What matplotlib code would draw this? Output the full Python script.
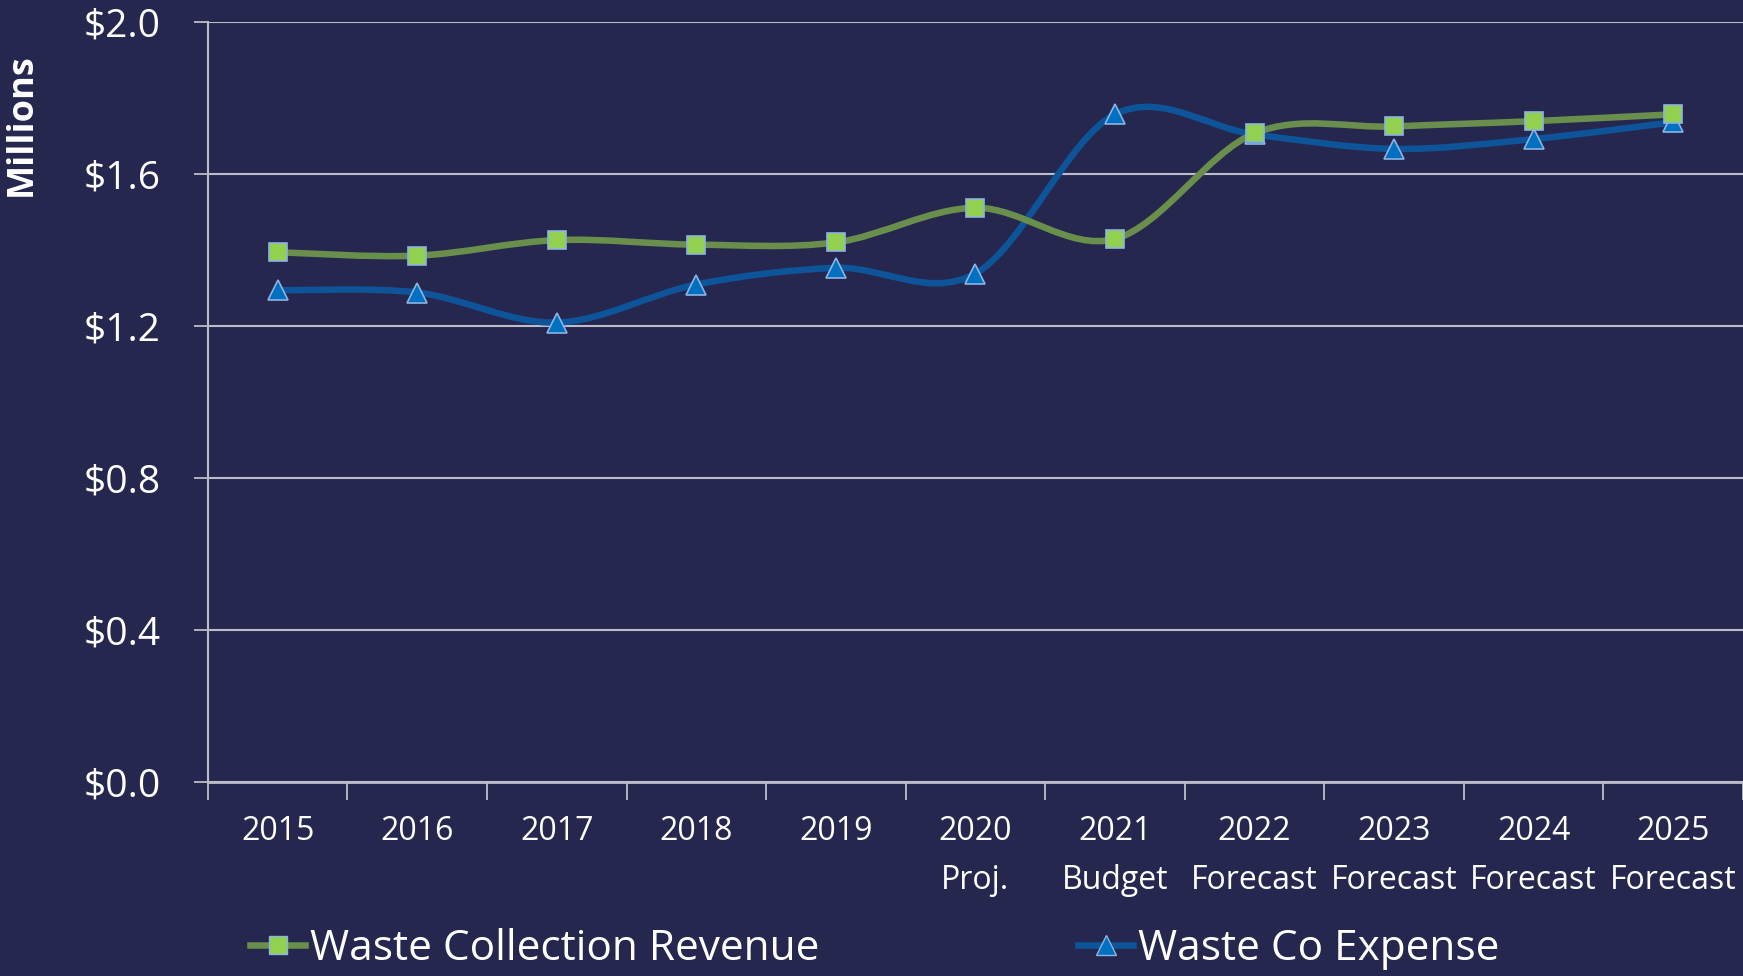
import matplotlib.pyplot as plt
from matplotlib.path import Path
from matplotlib.patches import PathPatch
from matplotlib.lines import Line2D
from matplotlib.ticker import FuncFormatter

plt.rcParams['font.family'] = ['Open Sans', 'DejaVu Sans']

# data (millions of dollars)
categories = ["2015", "2016", "2017", "2018", "2019", "2020\nProj.", "2021\nBudget",
              "2022\nForecast", "2023\nForecast", "2024\nForecast", "2025\nForecast"]
revenue = [1.394, 1.385, 1.426, 1.414, 1.420, 1.511, 1.429, 1.707, 1.725, 1.739, 1.757]
expense = [1.294, 1.288, 1.209, 1.309, 1.353, 1.338, 1.757, 1.704, 1.666, 1.692, 1.736]

BG = '#25274F'
GRID = '#BDBDC8'
GREEN_LINE = '#6A8E4C'
GREEN_FILL = '#92D050'
BLUE_LINE = '#0D5499'
BLUE_FILL = '#0070C0'
MARK_EDGE = '#8DB3E2'


def smooth_path(xs, ys):
    # Excel-style smoothed line: cubic bezier segments through every point
    pts = list(zip(xs, ys))
    verts = [pts[0]]
    codes = [Path.MOVETO]
    n = len(pts)
    for i in range(n - 1):
        p0 = pts[i - 1] if i > 0 else pts[i]
        p1 = pts[i]
        p2 = pts[i + 1]
        p3 = pts[i + 2] if i + 2 < n else pts[i + 1]
        c1 = (p1[0] + (p2[0] - p0[0]) / 6, p1[1] + (p2[1] - p0[1]) / 6)
        c2 = (p2[0] - (p3[0] - p1[0]) / 6, p2[1] - (p3[1] - p1[1]) / 6)
        verts += [c1, c2, p2]
        codes += [Path.CURVE4] * 3
    return Path(verts, codes)


def main():
    fig = plt.figure(figsize=(17.43, 9.76), dpi=100, facecolor=BG)
    ax = fig.add_axes([0.1193, 0.1988, 0.8807, 0.7787])
    ax.set_facecolor(BG)

    x = list(range(len(categories)))

    for vals, lc, fc, mk, ms in [(expense, BLUE_LINE, BLUE_FILL, '^', 15),
                                 (revenue, GREEN_LINE, GREEN_FILL, 's', 13)]:
        ax.add_patch(PathPatch(smooth_path(x, vals), fill=False, edgecolor=lc,
                               linewidth=4.7, capstyle='round', joinstyle='round', zorder=3))
        ax.plot(x, vals, linestyle='none', marker=mk, markersize=ms, markerfacecolor=fc,
                markeredgecolor=MARK_EDGE, markeredgewidth=1.2, zorder=4)

    ax.set_xlim(-0.5, len(categories) - 0.5)
    ax.set_ylim(0, 2.0)
    ax.set_yticks([0, 0.4, 0.8, 1.2, 1.6, 2.0])
    ax.yaxis.set_major_formatter(FuncFormatter(lambda v, p: f"${v:.1f}"))
    ax.grid(axis='y', color=GRID, linewidth=1.5)
    ax.set_axisbelow(True)

    ax.set_xticks([i - 0.5 for i in range(len(categories) + 1)])
    ax.set_xticklabels([])
    ax.set_xticks(x, minor=True)
    ax.set_xticklabels(categories, minor=True, fontsize=23, color='white', linespacing=1.62)
    ax.tick_params(axis='x', which='minor', length=0, pad=24)
    ax.tick_params(axis='x', which='major', length=13, width=1.3, color=GRID)
    ax.tick_params(axis='y', length=10, width=1.3, color=GRID, labelsize=28,
                   labelcolor='white', pad=24)

    for side in ['top', 'right']:
        ax.spines[side].set_visible(False)
    ax.spines['left'].set_color(GRID)
    ax.spines['left'].set_linewidth(1.5)
    ax.spines['bottom'].set_color(GRID)
    ax.spines['bottom'].set_linewidth(2.0)

    fig.text(0.0126, 0.872, 'Millions', rotation=90, fontsize=26, fontweight='bold',
             color='white', ha='center', va='center')

    handles = [
        Line2D([], [], color=GREEN_LINE, linewidth=4.7, marker='s', markersize=13,
               markerfacecolor=GREEN_FILL, markeredgecolor=MARK_EDGE),
        Line2D([], [], color=BLUE_LINE, linewidth=4.7, marker='^', markersize=15,
               markerfacecolor=BLUE_FILL, markeredgecolor=MARK_EDGE),
    ]
    fig.legend(handles, ['Waste Collection Revenue', 'Waste Co Expense'], loc='center left',
               bbox_to_anchor=(0.1435, 0.0277), ncol=2, frameon=False, fontsize=30.5,
               labelcolor='white', handlelength=1.3, handletextpad=0.12, columnspacing=6.1,
               borderaxespad=0, borderpad=0)

    fig.savefig('out.png', dpi=100, facecolor=BG)
    plt.close(fig)


if __name__ == '__main__':
    main()
